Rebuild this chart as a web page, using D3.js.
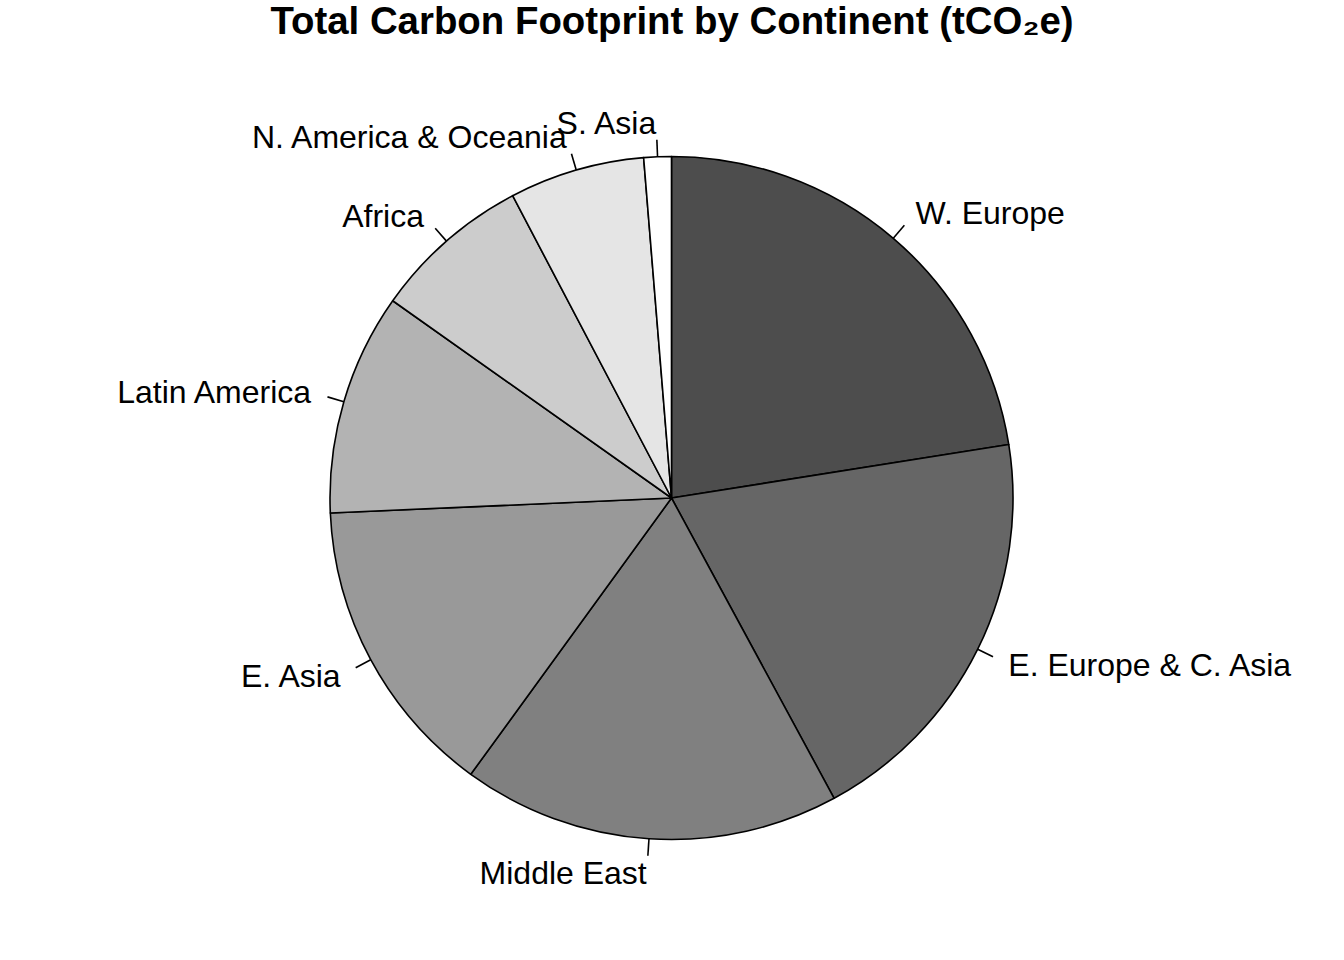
<html><head>
<meta charset="utf-8">
<title>Total Carbon Footprint by Continent</title>
<script src="https://d3js.org/d3.v7.min.js"></script>
<style>
  body { margin: 0; background: #fff; }
  text { font-family: "Liberation Sans", Arial, sans-serif; fill: #000; }
</style>
</head>
<body>
<div id="chart"></div>
<script>

// slices, clockwise from 12 o'clock (percent of total)
var continents = ["W. Europe", "E. Europe & C. Asia", "Middle East", "E. Asia",
                  "Latin America", "Africa", "N. America & Oceania", "S. Asia"];
var footprint = [22.5, 19.6, 17.9, 14.3, 10.5, 7.5, 6.4, 1.3];
var greys = ["#4D4D4D", "#666666", "#808080", "#999999", "#B3B3B3", "#CCCCCC", "#E5E5E5", "#FFFFFF"];

var width = 1344, height = 960;
var cx = 671.5, cy = 498, radius = 341.5;

var svg = d3.select("#chart")
  .append("svg")
    .attr("width", width)
    .attr("height", height);

svg.append("text")
  .attr("x", 672)
  .attr("y", 34)
  .attr("text-anchor", "middle")
  .style("font-size", "38.4px")
  .style("font-weight", "bold")
  .text("Total Carbon Footprint by Continent (tCO\u2082e)");

var data = continents.map(function(c, i) { return { name: c, value: footprint[i], fill: greys[i] }; });

var pie = d3.pie()
  .sort(null)
  .value(function(d) { return d.value; });

var arc = d3.arc()
  .innerRadius(0)
  .outerRadius(radius);

var g = svg.append("g")
  .attr("transform", "translate(" + cx + "," + cy + ")");

var slices = pie(data);

g.selectAll("path")
  .data(slices)
  .enter().append("path")
    .attr("d", arc)
    .attr("fill", function(d) { return d.data.fill; })
    .attr("stroke", "#000")
    .attr("stroke-width", 1.6)
    .attr("stroke-linejoin", "round");

function mid(d) { return (d.startAngle + d.endAngle) / 2; }

// little tick from the edge out to 1.05 r
g.selectAll("line.tick")
  .data(slices)
  .enter().append("line")
    .attr("class", "tick")
    .attr("x1", function(d) { return Math.sin(mid(d)) * radius; })
    .attr("y1", function(d) { return -Math.cos(mid(d)) * radius; })
    .attr("x2", function(d) { return Math.sin(mid(d)) * radius * 1.05; })
    .attr("y2", function(d) { return -Math.cos(mid(d)) * radius * 1.05; })
    .attr("stroke", "#000")
    .attr("stroke-width", 1.6);

g.selectAll("text.lab")
  .data(slices)
  .enter().append("text")
    .attr("class", "lab")
    .attr("x", function(d) { return Math.sin(mid(d)) * radius * 1.1; })
    .attr("y", function(d) { return -Math.cos(mid(d)) * radius * 1.1; })
    .attr("dy", "0.35em")
    .attr("text-anchor", function(d) { return Math.sin(mid(d)) >= 0 ? "start" : "end"; })
    .style("font-size", "32px")
    .text(function(d) { return d.data.name; });

</script>
</body></html>
